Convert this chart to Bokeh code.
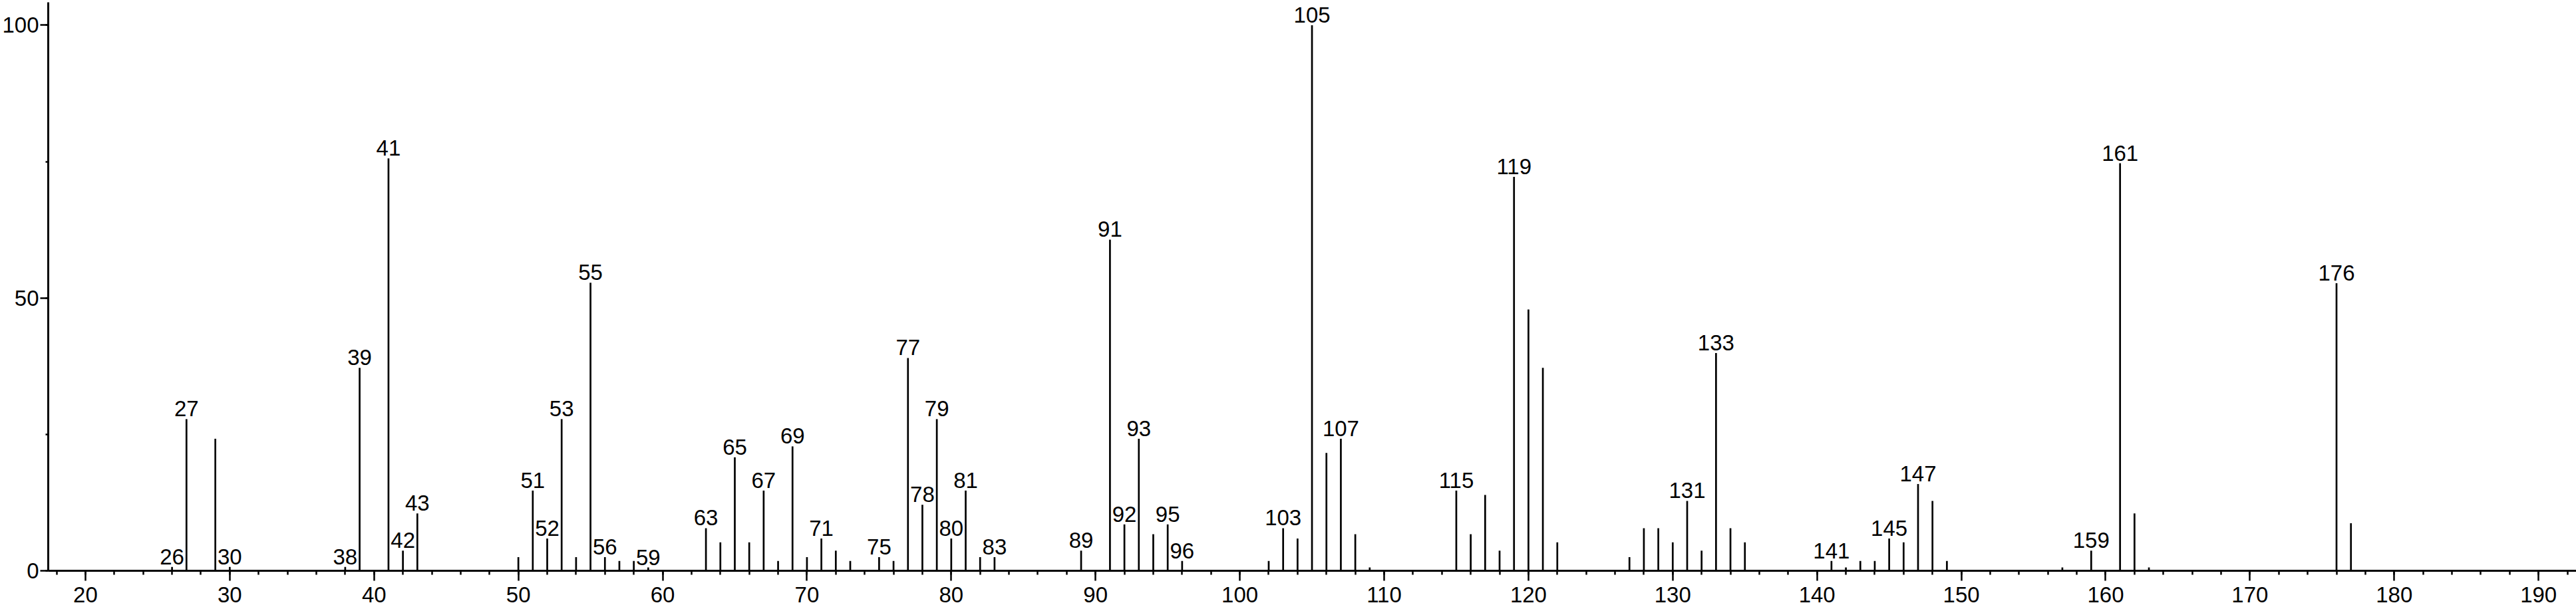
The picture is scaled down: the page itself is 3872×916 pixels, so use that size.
from bokeh.plotting import figure
from bokeh.models import SingleIntervalTicker, Range1d, ColumnDataSource
from bokeh.core.properties import value
from bokeh.embed import file_html
from bokeh.resources import INLINE

mz = [26, 27, 29, 30, 38, 39, 41, 42, 43, 50, 51, 52, 53, 54, 55, 56, 57, 58, 59,
      63, 64, 65, 66, 67, 68, 69, 70, 71, 72, 73, 75, 76, 77, 78, 79, 80, 81, 82, 83,
      89, 91, 92, 93, 94, 95, 96, 102, 103, 104, 105, 106, 107, 108, 109,
      115, 116, 117, 118, 119, 120, 121, 122, 127, 128, 129, 130, 131, 132, 133, 134, 135,
      141, 142, 143, 144, 145, 146, 147, 148, 149, 157, 159, 161, 162, 163, 176, 177]
intensity = [0.7, 27.8, 24.2, 0.7, 0.7, 37.2, 75.6, 3.7, 10.5, 2.5, 14.7, 5.9, 27.8, 2.5, 52.8, 2.5, 1.8, 1.8, 0.6,
             7.8, 5.2, 20.8, 5.2, 14.7, 1.8, 22.8, 2.5, 5.9, 3.7, 1.8, 2.5, 1.8, 39.0, 12.1, 27.8, 5.9, 14.7, 2.5, 2.5,
             3.7, 60.7, 8.5, 24.2, 6.7, 8.5, 1.8, 1.8, 7.8, 5.9, 100.0, 21.6, 24.2, 6.7, 0.6,
             14.7, 6.7, 13.9, 3.7, 72.2, 47.9, 37.2, 5.2, 2.5, 7.8, 7.8, 5.2, 12.8, 3.7, 39.9, 7.8, 5.2,
             1.8, 0.6, 1.8, 1.8, 5.9, 5.2, 15.9, 12.8, 1.8, 0.6, 3.7, 74.7, 10.5, 0.6, 52.7, 8.7]
labeled_mz = [26, 27, 30, 38, 39, 41, 42, 43, 51, 52, 53, 55, 56, 59, 63, 65, 67, 69, 71, 75,
              77, 78, 79, 80, 81, 83, 89, 91, 92, 93, 95, 96, 103, 105, 107, 115, 119, 131,
              133, 141, 145, 147, 159, 161, 176]

lookup = dict(zip(mz, intensity))
peaks = ColumnDataSource(dict(x=mz, y0=[0] * len(mz), y1=intensity))
labels = ColumnDataSource(dict(x=labeled_mz, y=[lookup[m] for m in labeled_mz],
                               t=[str(m) for m in labeled_mz]))

FONT = "Liberation Sans"
FS = "33px"

p = figure(width=3872, height=916, output_backend="svg", toolbar_location=None,
           x_range=Range1d(17.42, 192.62), y_range=Range1d(0, 104.2),
           min_border_left=69, min_border_right=0, min_border_top=3, min_border_bottom=58)
p.outline_line_color = None
p.xgrid.visible = False
p.ygrid.visible = False
p.background_fill_color = "white"
p.border_fill_color = "white"

p.segment(x0="x", y0="y0", x1="x", y1="y1", source=peaks, line_color="black", line_width=2.7)
p.text(x="x", y="y", text="t", source=labels, text_align="center", text_baseline="bottom",
       y_offset=-4, text_font=value(FONT), text_font_size=FS, text_color="black")

p.xaxis.ticker = SingleIntervalTicker(interval=10, num_minor_ticks=5)
p.yaxis.ticker = SingleIntervalTicker(interval=50, num_minor_ticks=2)
for ax in (p.xaxis, p.yaxis):
    ax.axis_line_width = 3
    ax.axis_line_color = "black"
    ax.major_tick_line_width = 2.5
    ax.minor_tick_line_width = 2.5
    ax.major_tick_line_color = "black"
    ax.minor_tick_line_color = "black"
    ax.major_tick_in = 0
    ax.minor_tick_in = 0
    ax.major_label_text_font = FONT
    ax.major_label_text_font_size = FS
    ax.major_label_text_color = "black"
p.xaxis.major_tick_out = 15
p.xaxis.minor_tick_out = 6
p.xaxis.major_label_standoff = 9
p.yaxis.major_tick_out = 12
p.yaxis.minor_tick_out = 4
p.yaxis.major_label_standoff = 2

open("out.html", "w").write(file_html(p, INLINE))
